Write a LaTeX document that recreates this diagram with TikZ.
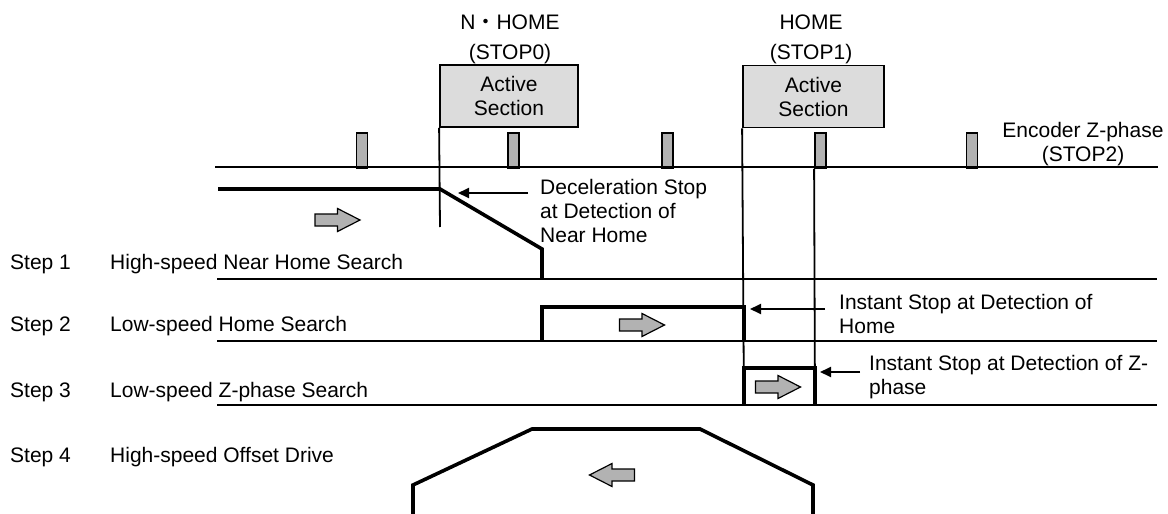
\documentclass[tikz,border=0pt]{standalone}
\usepackage{fontspec}
\setmainfont{Liberation Sans}
\newfontfamily\cjkjp{Noto Sans CJK JP}
\usetikzlibrary{arrows.meta}
\definecolor{boxgray}{HTML}{DCDCDC}
\definecolor{markgray}{HTML}{B2B2B2}
\definecolor{arrgray}{HTML}{B2B2B2}
\begin{document}
\begin{tikzpicture}[x=1pt,y=-1pt,
  font=\fontsize{21}{24}\selectfont,
  axisline/.style={line width=1.8pt},
  profile/.style={line width=3.6pt, line join=miter},
  activebox/.style={draw, line width=1.8pt, fill=boxgray, minimum height=62pt, align=center, inner sep=0pt},
  zmark/.style={draw, line width=1.8pt, fill=markgray, minimum width=11pt, minimum height=35pt, inner sep=0pt},
  lbl/.style={inner sep=0pt, anchor=base west},
  ctr/.style={inner sep=0pt, anchor=base},
  note/.style={inner sep=0pt, anchor=north west, align=left},
  leader/.style={line width=1.8pt, -{Triangle[length=11pt,width=10pt]}},
  garrow/.pic={\draw[fill=arrgray, line width=1.2pt, line join=miter]
     (-22.5,-6) -- (0,-6) -- (0,-11.5) -- (22.5,0) -- (0,11.5) -- (0,6) -- (-22.5,6) -- cycle;}
]
\useasboundingbox (0,0) rectangle (1168,514);

% top labels
\node[ctr] (nhome) at (510,29) {N{\cjkjp ・}HOME};
\node[ctr] (stop0) at (510,59) {(STOP0)};
\node[ctr] (home) at (811,30) {HOME};
\node[ctr] (stop1) at (811,59) {(STOP1)};
\node[ctr] (enc) at (1083,137) {Encoder Z-phase};
\node[ctr] (stop2) at (1083,161) {(STOP2)};

% active sections
\node[activebox, minimum width=138pt] (act0) at (509,96) {Active\\Section};
\node[activebox, minimum width=141pt] (act1) at (813.5,96.5) {Active\\Section};

% Z-phase markers
\node[zmark] (z1) at (362,150.5) {};
\node[zmark] (z2) at (513.5,150.5) {};
\node[zmark] (z3) at (667.5,150.5) {};
\node[zmark] (z4) at (820.5,150.5) {};
\node[zmark] (z5) at (972,150.5) {};

% horizontal lines
\coordinate (l0a) at (215,167); \coordinate (l0b) at (1158,167);
\coordinate (l1a) at (217,279); \coordinate (l1b) at (1157,279);
\coordinate (l2a) at (217,341); \coordinate (l2b) at (1157,341);
\coordinate (l3a) at (217,405); \coordinate (l3b) at (1157,405);
\draw[axisline] (l0a) -- (l0b);
\draw[axisline] (l1a) -- (l1b);
\draw[axisline] (l2a) -- (l2b);
\draw[axisline] (l3a) -- (l3b);

% vertical reference lines
\draw[axisline] (act0.south west) -- (440,227);
\draw[axisline] (act1.south west) -- (744,405);
\draw[axisline] (z4.south west) -- (815,405);

% speed profiles
\draw[profile] (218,189) -- (440,189) -- (542,249) -- (542,279);
\draw[profile] (542,341) -- (542,307) -- (744,307) -- (744,341);
\draw[profile] (744,405) -- (744,368) -- (815,368) -- (815,405);
\draw[profile] (413,517) -- (413,485) -- (532,429) -- (700,429) -- (813,485) -- (813,517);

% direction arrows
\pic at (337.5,220) {garrow};
\pic at (642,325) {garrow};
\pic at (778,387) {garrow};
\pic[xscale=-1] at (612,475) {garrow};

% step labels
\node[lbl] (s1) at (10,269) {Step 1};
\node[lbl] (d1) at (110,269) {High-speed Near Home Search};
\node[lbl] (s2) at (10,331) {Step 2};
\node[lbl] (d2) at (110,331) {Low-speed Home Search};
\node[lbl] (s3) at (10,397) {Step 3};
\node[lbl] (d3) at (110,397) {Low-speed Z-phase Search};
\node[lbl] (s4) at (10,462) {Step 4};
\node[lbl] (d4) at (110,462) {High-speed Offset Drive};

% annotations
\node[note] (n1) at (540,178.7) {Deceleration Stop\\at Detection of\\Near Home};
\node[note] (n2) at (839,293.7) {Instant Stop at Detection of\\Home};
\node[note] (n3) at (869,354.7) {Instant Stop at Detection of Z-\\phase};
\coordinate (a1s) at (528,193); \coordinate (a1e) at (458,193);
\coordinate (a2s) at (825,309); \coordinate (a2e) at (750,309);
\coordinate (a3s) at (860,372); \coordinate (a3e) at (820,372);
\draw[leader] (a1s) -- (a1e);
\draw[leader] (a2s) -- (a2e);
\draw[leader] (a3s) -- (a3e);
\end{tikzpicture}
\end{document}
